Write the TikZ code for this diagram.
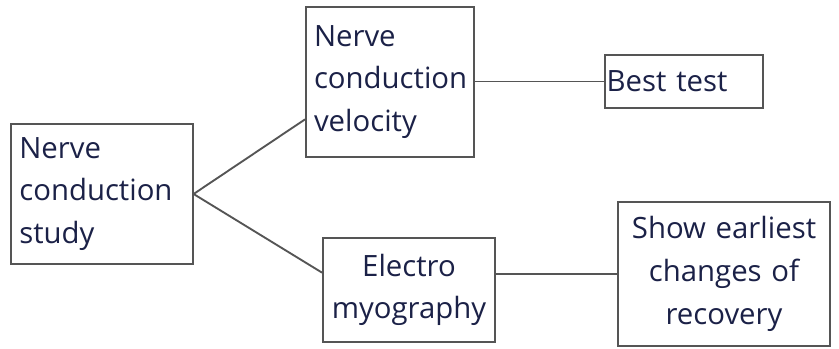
\documentclass[tikz,border=0pt]{standalone}
\usepackage{fontspec}
\setmainfont{Open Sans}
\usetikzlibrary{positioning,calc}
\definecolor{ink}{HTML}{1B2147}
\definecolor{edge}{HTML}{555555}
\tikzset{
  every node/.style={font=\fontsize{22}{32}\selectfont, text=ink},
  box/.style={draw=edge, line width=1.4pt, fill=white, inner xsep=6pt, inner ysep=0pt},
  leftbox/.style={box, align=left},
  midbox/.style={box, align=center},
  link/.style={draw=edge, line width=1.4pt},
}
\begin{document}
\begin{tikzpicture}[x=0.75pt, y=-0.75pt]
\useasboundingbox[fill=white] (0,0) rectangle (839,349);
\node[leftbox, text width=124pt, minimum height=105pt] (ncs) at (102,194) {Nerve\\conduction\\study};
\node[leftbox, text width=114pt, minimum height=112.5pt] (ncv) at (390,82) {Nerve\\conduction\\velocity};
\node[leftbox, inner xsep=1pt, text width=116pt, minimum height=40pt] (best) at (684,81.5) {Best test};
\node[midbox, text width=117pt, minimum height=78pt] (emg) at (409,290) {Electro\\myography};
\node[midbox, inner xsep=3pt, text width=153pt, minimum height=108pt] (rec) at (724,274) {Show earliest\\changes of\\recovery};
\draw[link] (ncs.east) -- ([yshift=-28pt]ncv.west);
\draw[link] (ncs.east) -- ([yshift=13pt]emg.west);
\draw[link] (ncv.east |- best.west) -- (best.west);
\draw[link] (emg.east |- rec.west) -- (rec.west);
\end{tikzpicture}
\end{document}
